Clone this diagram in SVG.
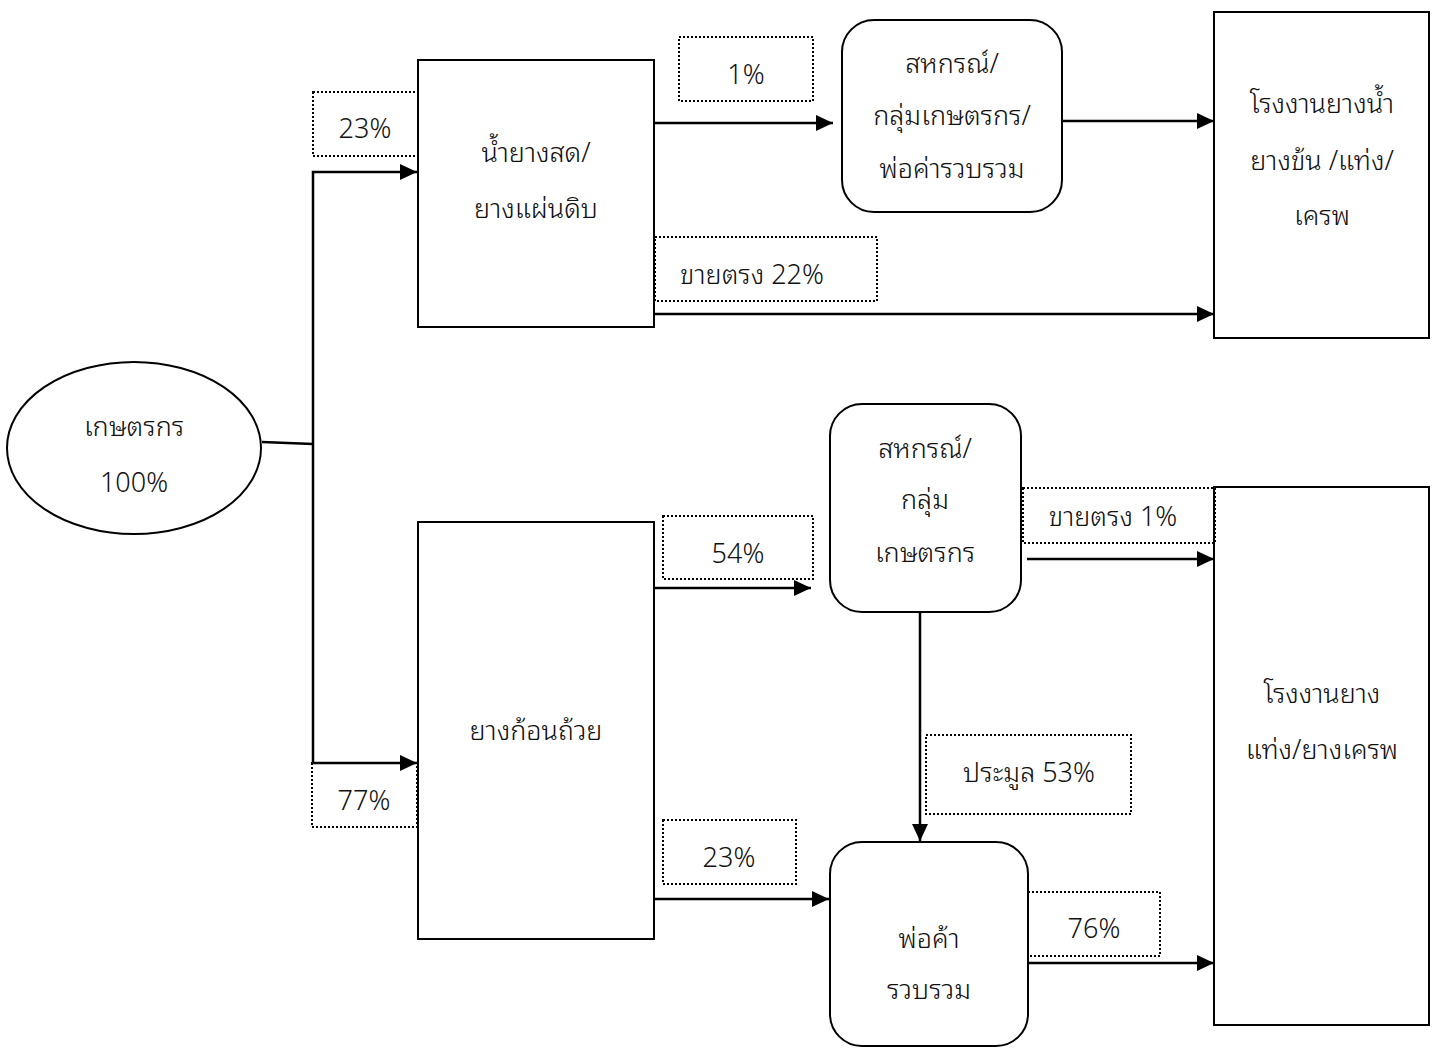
<svg xmlns="http://www.w3.org/2000/svg" width="1437" height="1048" viewBox="0 0 1437 1048">
<defs>
<marker id="arr" markerUnits="userSpaceOnUse" markerWidth="18" markerHeight="16" refX="17" refY="8" orient="auto">
<path d="M0,0 L17,8 L0,16 z" fill="#000"/>
</marker>
<style>
.box{fill:#fff;stroke:#000;stroke-width:2}
.lab{fill:none;stroke:#000;stroke-width:2;stroke-dasharray:2 2}
.con{fill:none;stroke:#000;stroke-width:2.5}
.t{font-family:"Noto Sans Thai Looped","Noto Sans Thai","Noto Sans","Leelawadee UI",sans-serif;font-size:27px;font-weight:300;fill:#111;text-anchor:middle}
</style>
</defs>
<rect width="1437" height="1048" fill="#fff"/>
<g id="connectors">
<line class="con" x1="262" y1="442" x2="313" y2="444" stroke-width="2"/>
<path class="con" d="M313,444 V172 H417" marker-end="url(#arr)"/>
<path class="con" d="M313,444 V763 H417" marker-end="url(#arr)"/>
<line class="con" x1="654" y1="123" x2="833" y2="123" marker-end="url(#arr)"/>
<line class="con" x1="1062" y1="121" x2="1214" y2="121" marker-end="url(#arr)"/>
<line class="con" x1="654" y1="314" x2="1214" y2="314" marker-end="url(#arr)"/>
<line class="con" x1="654" y1="588" x2="811" y2="588" marker-end="url(#arr)"/>
<line class="con" x1="1027" y1="559" x2="1214" y2="559" marker-end="url(#arr)"/>
<line class="con" x1="920" y1="612" x2="920" y2="841" marker-end="url(#arr)"/>
<line class="con" x1="654" y1="899" x2="829" y2="899" marker-end="url(#arr)"/>
<line class="con" x1="1028" y1="963" x2="1214" y2="963" marker-end="url(#arr)"/>
</g>
<g id="farmer">
<ellipse class="box" cx="134" cy="448" rx="127" ry="86"/>
<text class="t" x="134" y="436">เกษตรกร</text>
<text class="t" x="134" y="492">100%</text>
</g>
<g id="latex">
<rect class="box" x="418" y="60" width="236" height="267"/>
<text class="t" x="536" y="162">น้ำยางสด/</text>
<text class="t" x="536" y="218">ยางแผ่นดิบ</text>
</g>
<g id="cupLump">
<rect class="box" x="418" y="522" width="236" height="417"/>
<text class="t" x="536" y="740">ยางก้อนถ้วย</text>
</g>
<g id="coop1">
<rect class="box" x="842" y="20" width="220" height="192" rx="32"/>
<text class="t" x="952" y="73">สหกรณ์/</text>
<text class="t" x="952" y="125">กลุ่มเกษตรกร/</text>
<text class="t" x="952" y="178">พ่อค่ารวบรวม</text>
</g>
<g id="factory1">
<rect class="box" x="1214" y="12" width="215" height="326"/>
<text class="t" x="1322" y="113">โรงงานยางน้ำ</text>
<text class="t" x="1322" y="170">ยางข้น /แท่ง/</text>
<text class="t" x="1322" y="225">เครพ</text>
</g>
<g id="coop2">
<rect class="box" x="830" y="404" width="191" height="208" rx="32"/>
<text class="t" x="925" y="458">สหกรณ์/</text>
<text class="t" x="925" y="509">กลุ่ม</text>
<text class="t" x="925" y="562">เกษตรกร</text>
</g>
<g id="trader">
<rect class="box" x="830" y="842" width="198" height="204" rx="32"/>
<text class="t" x="929" y="948">พ่อค้า</text>
<text class="t" x="929" y="999">รวบรวม</text>
</g>
<g id="factory2">
<rect class="box" x="1214" y="487" width="215" height="538"/>
<text class="t" x="1322" y="703">โรงงานยาง</text>
<text class="t" x="1322" y="759">แท่ง/ยางเครพ</text>
</g>
<g id="label23a">
<rect class="lab" x="313" y="92" width="105" height="64"/>
<text class="t" x="365" y="138">23%</text>
</g>
<g id="label1">
<rect class="lab" x="679" y="37" width="134" height="64"/>
<text class="t" x="746" y="84">1%</text>
</g>
<g id="label22">
<rect class="lab" x="655" y="237" width="222" height="64"/>
<text class="t" x="752" y="284">ขายตรง 22%</text>
</g>
<g id="label77">
<rect class="lab" x="312" y="763" width="105" height="64"/>
<text class="t" x="364" y="810">77%</text>
</g>
<g id="label54">
<rect class="lab" x="663" y="516" width="150" height="63"/>
<text class="t" x="738" y="563">54%</text>
</g>
<g id="labelDirect1">
<rect class="lab" x="1023" y="488" width="192" height="55"/>
<text class="t" x="1113" y="526">ขายตรง 1%</text>
</g>
<g id="label53">
<rect class="lab" x="926" y="735" width="205" height="79"/>
<text class="t" x="1029" y="782">ประมูล 53%</text>
</g>
<g id="label23b">
<rect class="lab" x="663" y="820" width="133" height="64"/>
<text class="t" x="729" y="867">23%</text>
</g>
<g id="label76">
<rect class="lab" x="1028" y="892" width="132" height="64"/>
<text class="t" x="1094" y="938">76%</text>
</g>
</svg>
